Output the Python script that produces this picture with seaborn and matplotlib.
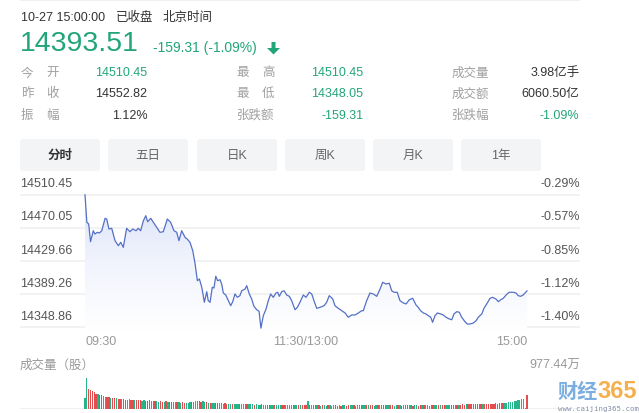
import numpy as np
import pandas as pd
import seaborn as sns
import matplotlib
matplotlib.use("Agg")
import matplotlib.pyplot as plt
from matplotlib.patches import FancyBboxPatch, Polygon, Rectangle
from matplotlib.colors import LinearSegmentedColormap

# ---- data ----
prev_close = 14552.82
last_price = 14393.51
grid_prices = [14510.45, 14470.05, 14429.66, 14389.26, 14348.86]
time_labels = ["09:30", "11:30/13:00", "15:00"]
time_pos = [0, 120, 240]

# minutes after 09:30 (trading minutes) and index value
minutes = [0, 1, 2, 3, 4.5, 5.4, 6.7, 7.8, 9.1, 10.9,
           11.8, 13, 14.5, 16.3, 18.1, 19.4, 20.8, 22.6, 24.4, 25.9,
           27.7, 28.9, 30.2, 31.7, 33, 34, 35.7, 37.1, 38.9, 40.7,
           42.5, 44.7, 46.5, 48.3, 49.8, 51, 52.5, 54.3, 55.5, 57,
           58.5, 59.7, 61, 62.1, 63.4, 64.8, 66.1, 66.9, 67.9, 69.1,
           70, 71, 72, 73.3, 74.2, 75.1, 76.4, 77.8, 79.1, 80.2,
           81.4, 82.7, 84.1, 85.1, 86.9, 87.8, 89.2, 90.5, 91.7, 93.2,
           94.5, 95.5, 96.8, 98.3, 99.5, 100.8, 102.2, 103.7, 104.6, 105.5,
           106.8, 108, 109.5, 110.9, 112.2, 114, 115.3, 116.7, 118.5, 120,
           121.8, 123.1, 124.3, 125.8, 127.6, 129.8, 131.2, 132.6, 134.5, 135.7,
           137.5, 139.4, 141.2, 142.9, 144.8, 146.6, 148.4, 150.2, 151.1, 152.9,
           154.7, 156.5, 158.4, 160.2, 161.6, 163.4, 165.2, 166.5, 167.8, 169.5,
           171, 172.8, 174.3, 176.1, 177.9, 179.7, 180.9, 182.2, 183.7, 185.1,
           186.4, 187.7, 188.7, 190, 191.3, 193.1, 194.5, 196, 197.8, 199.1,
           200.3, 201.8, 203.2, 204.5, 206.3, 207.5, 209, 210.8, 212.3, 213.5,
           215.4, 216.6, 218.4, 219.9, 221.3, 223.1, 224.4, 225.7, 227.1, 228.6,
           230.3, 232.5, 234, 235.2, 236.5, 237.9, 240]
prices = [14510.45, 14476.9, 14474.8, 14453.3, 14466.6, 14462.6, 14464.7, 14463.8, 14466.6, 14481.7,
          14480.9, 14468.7, 14469.6, 14454.5, 14448.4, 14452.5, 14446.4, 14469.6, 14465.4, 14468.7,
          14466.6, 14469.6, 14466.6, 14478.8, 14484.9, 14477.6, 14481.7, 14476.9, 14470.8, 14464.7,
          14465.4, 14480.9, 14476.9, 14466.6, 14464.7, 14454.5, 14466.6, 14458.6, 14456.5, 14452.5,
          14442.3, 14427.3, 14405.8, 14407.9, 14397.8, 14379.5, 14392.4, 14381.5, 14379.5, 14397.8,
          14396.9, 14411.2, 14405.8, 14407.0, 14401.8, 14390.8, 14388.4, 14381.5, 14375.4, 14380.3,
          14389.6, 14385.6, 14387.6, 14393.6, 14395.7, 14399.7, 14389.6, 14383.5, 14374.7, 14370.5,
          14368.6, 14348.05, 14363.2, 14371.4, 14381.5, 14389.6, 14385.6, 14390.8, 14391.7, 14386.8,
          14392.4, 14393.6, 14388.4, 14386.8, 14381.5, 14370.5, 14373.4, 14379.5, 14388.4, 14385.6,
          14391.7, 14389.6, 14381.5, 14372.2, 14373.4, 14375.4, 14379.5, 14387.6, 14383.5, 14375.4,
          14372.2, 14369.3, 14366.5, 14361.3, 14364.1, 14364.1, 14366.5, 14369.3, 14369.3, 14381.5,
          14390.8, 14389.6, 14386.8, 14395.7, 14403.9, 14401.8, 14402.7, 14393.6, 14391.7, 14391.7,
          14381.5, 14378.7, 14377.5, 14382.7, 14384.4, 14376.3, 14373.4, 14369.3, 14366.5, 14365.3,
          14363.2, 14361.3, 14355.2, 14363.2, 14366.5, 14365.3, 14364.1, 14361.3, 14359.2, 14358.3,
          14365.3, 14368.1, 14367.4, 14361.3, 14355.9, 14353.1, 14353.1, 14354.3, 14357.1, 14361.3,
          14365.3, 14372.2, 14378.7, 14384.4, 14385.6, 14383.5, 14380.3, 14382.7, 14384.4, 14388.4,
          14391.7, 14391.7, 14390.8, 14387.6, 14386.8, 14388.4, 14393.51]

# volume per minute (万股)
volumes = [330, 977.44, 620, 600, 580, 520, 480, 470, 440, 420,
           390, 380, 360, 370, 350, 340, 330, 345, 320, 310,
           300, 310, 290, 280, 300, 285, 270, 275, 260, 280,
           265, 255, 270, 250, 245, 260, 240, 250, 235, 230,
           225, 240, 220, 215, 230, 210, 205, 220, 200, 210,
           195, 205, 190, 200, 185, 190, 180, 195, 200, 210,
           230, 250, 240, 225, 245, 220, 200, 190, 185, 180,
           175, 170, 180, 165, 170, 160, 165, 155, 160, 150,
           155, 160, 150, 145, 150, 140, 150, 145, 160, 140,
           130, 135, 125, 130, 120, 125, 130, 120, 115, 125,
           120, 115, 120, 110, 115, 120, 110, 115, 110, 120,
           115, 110, 105, 115, 110, 105, 110, 115, 105, 110,
           110, 250, 110, 105, 100, 110, 105, 100, 95, 105,
           100, 95, 105, 100, 95, 100, 105, 95, 100, 95,
           100, 105, 95, 100, 110, 105, 100, 95, 100, 105,
           100, 110, 105, 115, 110, 100, 105, 95, 100, 105,
           110, 120, 110, 105, 100, 110, 105, 100, 95, 100,
           105, 100, 95, 100, 105, 110, 100, 105, 95, 100,
           100, 95, 105, 100, 110, 105, 100, 95, 105, 100,
           105, 110, 100, 105, 110, 115, 105, 110, 115, 110,
           120, 115, 120, 125, 120, 130, 125, 130, 135, 130,
           135, 140, 135, 140, 145, 140, 150, 145, 150, 155,
           150, 160, 155, 165, 160, 170, 175, 180, 185, 190,
           200, 210, 220, 230, 250, 260, 280, 300, 310, 30,
           440]
# r = up minute (red), g = down minute (green)
vol_flags = ("ggrrrrrgrr" "ggrrgrrgrr" "grrggrrgrr" "rggrrrgrrg" "grrgrgrrgg"
             "rggrrgggrg" "ggrrggrgrg" "grrgggrrgg" "rgggrggrrg" "ggrgggrggr"
             "rggrgggrrg" "gggrggrgrr" "rgrgrrgrgr" "ggrgggrggr" "ggrrggrggg"
             "rggrgrrggr" "grrgggrrgg" "rgrgrrggrg" "grrgrgggrr" "ggrgrrgggr"
             "rrrgrrrgrr" "rrrrrrgrrr" "rrrrrrrrgg" "gggggggggg" "r")

green = "#22a678"
red = "#e34d4d"
bar_green = "#26b489"
line_c = "#5470c6"

W, H = 639, 414
sns.set_theme(style="white")
plt.rcParams["font.family"] = ["Liberation Sans", "Noto Sans CJK SC", "DejaVu Sans"]

fig = plt.figure(figsize=(W / 100, H / 100), dpi=100)
fig.patch.set_facecolor("white")


def T(x, y, s, **kw):
    kw.setdefault("va", "center")
    return fig.text(x / 100, (H - y) / 100, s, transform=fig.dpi_scale_trans, **kw)


# thin strip at the very top
fig.add_artist(Rectangle((20 / 100, (H - 2) / 100), 560 / 100, 2 / 100,
                         transform=fig.dpi_scale_trans, color="#f0f0f0", lw=0))

# header
T(21, 18, "10-27 15:00:00", size=9, color="#333333")
T(116, 18, "已收盘", size=9, color="#333333")
T(163, 18, "北京时间", size=9, color="#333333")
T(20, 44, f"{last_price:.2f}", size=20.5, color=green)
chg = last_price - prev_close
T(153, 48, f"{chg:.2f} ({chg / prev_close * 100:.2f}%)", size=10, color=green)
arrow = [(271.5, 43), (275.5, 43), (275.5, 49), (280, 49), (273.5, 55.5),
         (267, 49), (271.5, 49)]
fig.add_artist(Polygon([(x / 100, (H - y) / 100) for x, y in arrow], closed=True,
                       transform=fig.dpi_scale_trans, color=green, lw=0))

# stats table
row_y = [73.3, 94.3, 115.7]
col1 = [("今", "开", "14510.45", green), ("昨", "收", "14552.82", "#333333"),
        ("振", "幅", "1.12%", "#333333")]
col2 = [("最", "高", "14510.45", green), ("最", "低", "14348.05", green),
        ("张跌额", None, "-159.31", green)]
col3 = [("成交量", "3.98亿手", "#333333"), ("成交额", "6060.50亿", "#333333"),
        ("张跌幅", "-1.09%", green)]
lab_c = "#a0a0a0"
for y, (a, b, v, c) in zip(row_y, col1):
    T(21, y, a, size=9, color=lab_c)
    T(46, y, b, size=9, color=lab_c)
    T(147.5, y, v, size=9, color=c, ha="right")
for y, (a, b, v, c) in zip(row_y, col2):
    if b is None:
        T(236.5, y, a, size=9, color=lab_c)
    else:
        T(236.5, y, a, size=9, color=lab_c)
        T(262, y, b, size=9, color=lab_c)
    T(363.5, y, v, size=9, color=c, ha="right")
for y, (a, v, c) in zip(row_y, col3):
    T(451.5, y, a, size=9, color=lab_c)
    T(579.5, y, v, size=9, color=c, ha="right")

# tabs
tabs = ["分时", "五日", "日K", "周K", "月K", "1年"]
tab_x = [20, 108, 197, 285, 373, 461]
for i, (lab, x0) in enumerate(zip(tabs, tab_x)):
    fig.add_artist(FancyBboxPatch((x0 / 100, (H - 172) / 100), 80 / 100, 32 / 100,
                                  boxstyle="round,pad=0,rounding_size=0.03",
                                  transform=fig.dpi_scale_trans,
                                  facecolor="#f3f4f6", edgecolor="none"))
    T(x0 + 40, 156, lab, size=9, ha="center",
      color="#333333" if i == 0 else "#666666",
      weight="bold" if i == 0 else "normal")

# ---- price chart ----
px_per_unit = 33.2 / (grid_prices[0] - grid_prices[1])
y_top = grid_prices[0] + (195.7 - 185) / px_per_unit
y_bot = grid_prices[0] - (335 - 195.7) / px_per_unit
x_lo = (20 - 85) / 1.842
x_hi = (580 - 85) / 1.842

ax = fig.add_axes([20 / W, 1 - 335 / H, 560 / W, 150 / H])
for gp in grid_prices:
    ax.axhline(gp, color="#f1f1f1", lw=1.3, zorder=0)

fill = ax.fill_between(minutes, prices, 14344, color="none", lw=0)
cmap = LinearSegmentedColormap.from_list("fade", ["#ffffff", "#f1f4fd", "#dbe2f8"])
grad = ax.imshow(np.linspace(0, 1, 256).reshape(-1, 1), cmap=cmap, aspect="auto",
                 origin="lower", extent=[0, 240, 14344, grid_prices[0]], zorder=1)
grad.set_clip_path(fill.get_paths()[0], transform=ax.transData)

sns.lineplot(x=minutes, y=prices, ax=ax, color=line_c, lw=0.9, zorder=3)

for gp in grid_prices:
    ax.annotate(f"{gp:.2f}", xy=(0, gp), xycoords=ax.get_yaxis_transform(),
                xytext=(0, 8.3), textcoords="offset points", va="center",
                ha="left", size=9, color="#555555")
    ax.annotate(f"{(gp / prev_close - 1) * 100:.2f}%", xy=(1, gp),
                xycoords=ax.get_yaxis_transform(), xytext=(0, 8.3),
                textcoords="offset points", va="center", ha="right",
                size=9, color="#555555")
for lab, t, ha in zip(time_labels, time_pos, ["left", "center", "right"]):
    ax.annotate(lab, xy=(t, 0), xycoords=ax.get_xaxis_transform(),
                xytext=(0, -4.9), textcoords="offset points", va="center",
                ha=ha, size=9, color="#999999")

ax.set_xlim(x_lo, x_hi)
ax.set_ylim(y_bot, y_top)
ax.axis("off")

# ---- volume ----
axv = fig.add_axes([20 / W, 1 - 409.5 / H, 560 / W, 34.5 / H])
vol_df = pd.DataFrame({"i": range(len(volumes)), "vol": volumes,
                       "flag": list(vol_flags[:len(volumes)])})
sns.barplot(data=vol_df, x="i", y="vol", hue="flag",
            palette={"r": red, "g": bar_green}, dodge=False, width=0.7,
            saturation=1, legend=False, linewidth=0, ax=axv)
axv.axhline(0, color="#eeeeee", lw=1.2, zorder=0)
axv.set_xlim(x_lo, x_hi)
axv.set_ylim(0, max(volumes) * (409.5 - 375) / 30.3)
axv.axis("off")

T(20, 366, "成交量（股）", size=9, color="#999999")
T(580, 366, f"{max(volumes):.2f}万", size=9, color="#999999", ha="right")

# watermark
T(558, 392, "财经", size=14.5, color="#6ea5dc", weight="bold", alpha=0.9)
T(597, 392, "365", size=17, color="#f4a63a", weight="bold", alpha=0.9)
T(558, 409, "www.caijing365.com", size=5.3, color="#8190a8",
  family="DejaVu Sans Mono")

fig.savefig("out.png", dpi=100, facecolor="white")
